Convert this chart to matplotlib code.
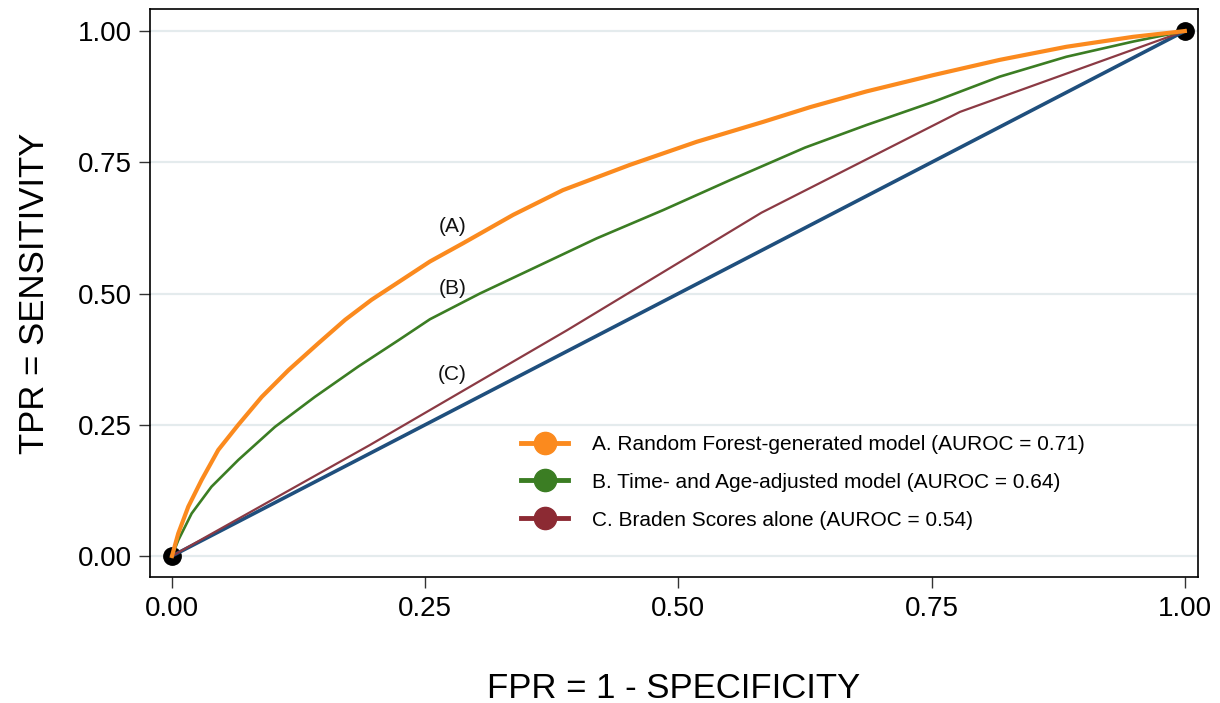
import matplotlib
matplotlib.use("Agg")
import matplotlib.pyplot as plt
from matplotlib.lines import Line2D

plt.rcParams['font.family'] = ['Liberation Sans', 'DejaVu Sans']

# ---- data ----
fpr_a = [0, 0.0062, 0.0161, 0.0293, 0.0457, 0.0655, 0.0886, 0.115, 0.1444, 0.171, 0.197,
         0.2547, 0.2876, 0.337, 0.386, 0.452, 0.518, 0.5837, 0.630,
         0.6857, 0.7515, 0.817, 0.883, 0.949, 1.0]
tpr_a = [0, 0.043, 0.094, 0.145, 0.202, 0.250, 0.303, 0.354, 0.405, 0.450, 0.488,
         0.561, 0.596, 0.650, 0.697, 0.745, 0.789, 0.827, 0.855,
         0.885, 0.916, 0.945, 0.970, 0.989, 1.0]

fpr_b = [0, 0.0062, 0.0194, 0.039, 0.0655, 0.1017, 0.141, 0.184, 0.2236, 0.2547,
         0.304, 0.3534, 0.4192, 0.485, 0.551, 0.625,
         0.6857, 0.7515, 0.817, 0.883, 0.949, 1.0]
tpr_b = [0, 0.030, 0.081, 0.132, 0.183, 0.246, 0.303, 0.361, 0.411, 0.451,
         0.500, 0.545, 0.605, 0.659, 0.716, 0.778,
         0.821, 0.865, 0.913, 0.951, 0.980, 1.0]

fpr_c = [0, 0.195, 0.390, 0.582, 0.778, 1.0]
tpr_c = [0, 0.211, 0.430, 0.654, 0.846, 1.0]

ref_x = [0, 1]
ref_y = [0, 1]

end_x = [0, 1]
end_y = [0, 1]

labels = ["A. Random Forest-generated model (AUROC = 0.71)",
          "B. Time- and Age-adjusted model (AUROC = 0.64)",
          "C. Braden Scores alone (AUROC = 0.54)"]
curve_tags = ["(A)", "(B)", "(C)"]
tag_x = [0.277, 0.277, 0.277]
tag_y = [0.627, 0.510, 0.345]

ticks = [0.0, 0.25, 0.5, 0.75, 1.0]
tick_labels = ["0.00", "0.25", "0.50", "0.75", "1.00"]

c_a = '#fb8a1e'
c_b = '#3b7d23'
c_c = '#8b3a44'
c_c_leg = '#8c2a33'
c_ref = '#1f4f7d'

fig = plt.figure(figsize=(12.2, 7.03), dpi=100)
ax = fig.add_axes([150/1220, 1-577/703, (1198-150)/1220, (577-9)/703])

ax.set_xlim(-0.0217, 1.013)
ax.set_ylim(-0.04, 1.042)

for t in ticks:
    ax.axhline(t, color='#e4ebed', lw=1.6, zorder=0)

ax.plot(end_x, end_y, 'o', color='black', markersize=12.5, zorder=1, linestyle='none')
ax.plot(ref_x, ref_y, color=c_ref, lw=2.6, zorder=2)
ax.plot(fpr_c, tpr_c, color=c_c, lw=1.6, zorder=3)
ax.plot(fpr_b, tpr_b, color=c_b, lw=1.9, zorder=4, solid_joinstyle='round')
ax.plot(fpr_a, tpr_a, color=c_a, lw=3.0, zorder=5, solid_joinstyle='round')

for t, x, y in zip(curve_tags, tag_x, tag_y):
    ax.text(x, y, t, fontsize=15, ha='center', va='center', color='#111111')

ax.set_xticks(ticks)
ax.set_xticklabels(tick_labels)
ax.set_yticks(ticks)
ax.set_yticklabels(tick_labels)
ax.tick_params(axis='both', labelsize=20, length=8, width=1.0, color='#333333', pad=6)
ax.tick_params(axis='y', pad=5)

for s in ax.spines.values():
    s.set_color('black')
    s.set_linewidth(1.2)

ax.set_xlabel("FPR = 1 - SPECIFICITY", fontsize=25, labelpad=36)
ax.set_ylabel("TPR = SENSITIVITY", fontsize=25, labelpad=19)

handles = [Line2D([0], [0], color=c_a, lw=3.5, marker='o', markersize=16),
           Line2D([0], [0], color=c_b, lw=3.5, marker='o', markersize=16),
           Line2D([0], [0], color=c_c_leg, lw=3.5, marker='o', markersize=16)]
ax.legend(handles, labels, loc='upper left', bbox_to_anchor=((521-150)/1048, (577-435)/568),
          frameon=False, fontsize=15, borderpad=0, borderaxespad=0,
          handlelength=2.26, handletextpad=1.15, labelspacing=0.9)

fig.savefig("out.png", dpi=100, facecolor='white')
